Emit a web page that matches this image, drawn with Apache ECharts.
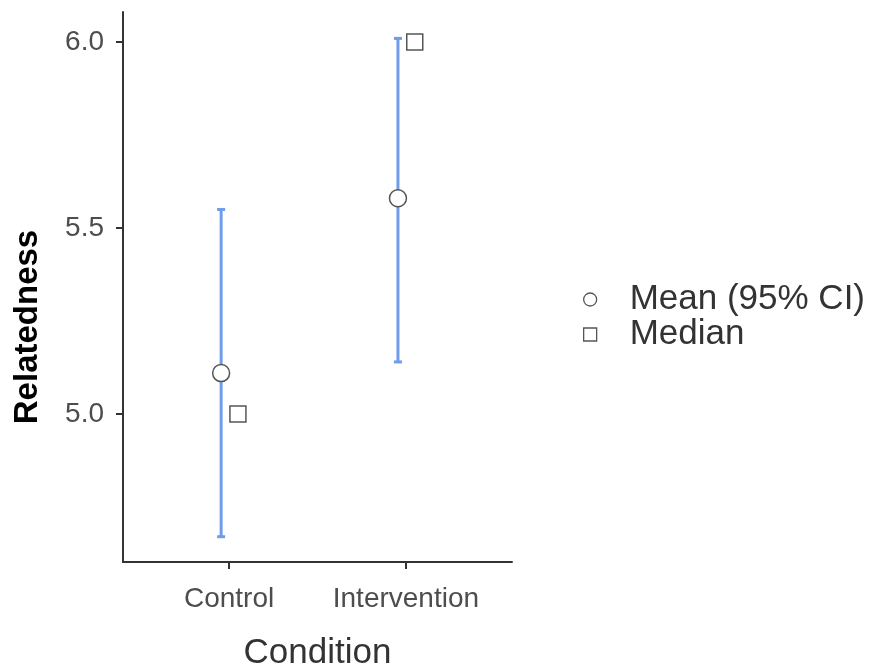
<!DOCTYPE html>
<html>
<head>
<meta charset="utf-8">
<script src="https://cdn.jsdelivr.net/npm/echarts@6/dist/echarts.min.js"></script>
<style>
html,body{margin:0;padding:0;background:#fff;}
#chart{width:873px;height:667px;}
</style>
</head>
<body>
<div id="chart"></div>
<script>
const categories = ['Control', 'Intervention'];
const meanValues = [5.11, 5.58];
const ciLower = [4.67, 5.14];
const ciUpper = [5.55, 6.01];
const medianValues = [5.0, 6.0];
const yTicks = [5.0, 5.5, 6.0];

const FONT = 'Liberation Sans, Arial, Helvetica, sans-serif';
const DODGE_MEAN = -0.045;
const DODGE_MEDIAN = 0.05;
const BAR_COLOR = '#6f9ceb';
const MARK_BORDER = '#555555';

const catPos = categories.map((c, i) => i + 1);
const meanData = catPos.map((x, i) => [x + DODGE_MEAN, meanValues[i]]);
const medianData = catPos.map((x, i) => [x + DODGE_MEDIAN, medianValues[i]]);
const ciData = catPos.map((x, i) => [x + DODGE_MEAN, ciLower[i], ciUpper[i]]);

const chart = echarts.init(document.getElementById('chart'), null, {renderer: 'canvas'});

const option = {
  animation: false,
  backgroundColor: '#ffffff',
  textStyle: {fontFamily: FONT},
  grid: {left: 123, right: 361, top: 12, bottom: 105, containLabel: false, outerBoundsMode: 'none'},
  legend: {
    orient: 'vertical',
    left: 578,
    top: 277,
    itemWidth: 13,
    itemHeight: 13,
    itemGap: 0,
    data: [
      {name: 'Mean (95% CI)', icon: 'circle'},
      {name: 'Median', icon: 'rect'}
    ],
    itemStyle: {color: '#ffffff', borderColor: MARK_BORDER, borderWidth: 1.3},
    textStyle: {fontFamily: FONT, fontSize: 35, color: '#333333', padding: [0, 0, 0, 28], lineHeight: 34},
    selectedMode: false
  },
  xAxis: {
    type: 'value',
    min: 0.4,
    max: 2.6,
    name: 'Condition',
    nameLocation: 'middle',
    nameGap: 74,
    nameTextStyle: {fontFamily: FONT, fontSize: 35, color: '#333333'},
    splitLine: {show: false},
    axisLine: {show: true, onZero: false, lineStyle: {color: '#333333', width: 2}},
    axisTick: {show: true, length: 7, customValues: catPos, lineStyle: {color: '#333333', width: 2}},
    axisLabel: {
      customValues: catPos,
      margin: 23,
      fontFamily: FONT, fontSize: 28, color: '#4d4d4d',
      formatter: v => categories[Math.round(v) - 1]
    }
  },
  yAxis: {
    type: 'value',
    min: 4.602,
    max: 6.081,
    name: 'Relatedness',
    nameLocation: 'middle',
    nameGap: 79,
    nameTextStyle: {fontFamily: FONT, fontSize: 33, fontWeight: 'bold', color: '#000000', padding: [0, 80, 0, 0]},
    splitLine: {show: false},
    axisLine: {show: true, onZero: false, lineStyle: {color: '#333333', width: 2}},
    axisTick: {show: true, length: 7, customValues: yTicks, lineStyle: {color: '#333333', width: 2}},
    axisLabel: {
      customValues: yTicks,
      margin: 19,
      fontFamily: FONT, fontSize: 28, color: '#4d4d4d',
      formatter: v => v.toFixed(1)
    }
  },
  series: [
    {
      type: 'custom',
      name: 'CI',
      data: ciData,
      encode: {x: 0, y: [1, 2]},
      z: 2,
      renderItem: function (params, api) {
        const x = api.value(0);
        const lo = api.coord([x, api.value(1)]);
        const hi = api.coord([x, api.value(2)]);
        const cap = 4;
        const st = {stroke: BAR_COLOR, lineWidth: 3};
        return {
          type: 'group',
          children: [
            {type: 'line', shape: {x1: lo[0], y1: lo[1], x2: hi[0], y2: hi[1]}, style: st},
            {type: 'line', shape: {x1: lo[0] - cap, y1: lo[1], x2: lo[0] + cap, y2: lo[1]}, style: st},
            {type: 'line', shape: {x1: hi[0] - cap, y1: hi[1], x2: hi[0] + cap, y2: hi[1]}, style: st}
          ]
        };
      }
    },
    {
      type: 'scatter',
      name: 'Mean (95% CI)',
      data: meanData,
      symbol: 'circle',
      symbolSize: 17,
      z: 5,
      itemStyle: {color: '#ffffff', borderColor: MARK_BORDER, borderWidth: 1.5, opacity: 1}
    },
    {
      type: 'scatter',
      name: 'Median',
      data: medianData,
      symbol: 'rect',
      symbolSize: 16,
      z: 5,
      itemStyle: {color: '#ffffff', borderColor: MARK_BORDER, borderWidth: 1.5, opacity: 1}
    }
  ]
};
chart.setOption(option);
</script>
</body>
</html>
